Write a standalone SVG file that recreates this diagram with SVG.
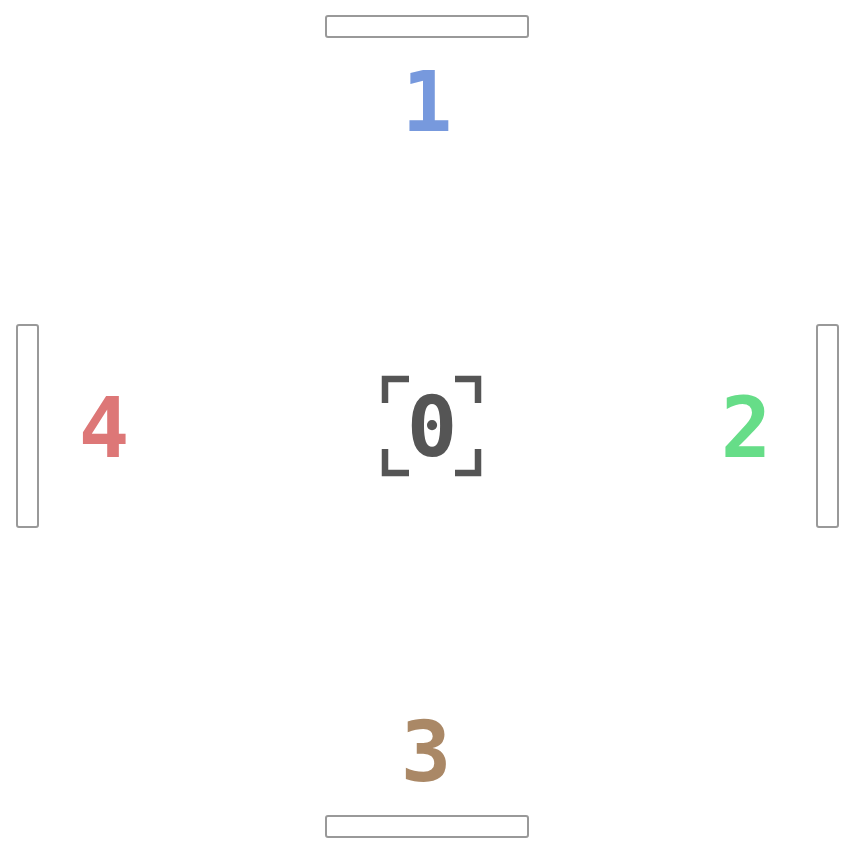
<svg xmlns="http://www.w3.org/2000/svg" width="850" height="850" viewBox="0 0 850 850">
<style>
.wall{fill:#fff;stroke:#999;stroke-width:2}
.num{font-family:"DejaVu Sans Mono","Liberation Mono",monospace;font-weight:bold;font-size:84px;text-anchor:middle}
.br{fill:none;stroke:#555;stroke-width:6.5}
</style>
<rect width="850" height="850" fill="#fff"/>
<g id="wall-top"><rect class="wall" x="326" y="16" width="202" height="21" rx="2"/></g>
<g id="wall-right"><rect class="wall" x="817" y="325" width="21" height="202" rx="2"/></g>
<g id="wall-bottom"><rect class="wall" x="326" y="816" width="202" height="21" rx="2"/></g>
<g id="wall-left"><rect class="wall" x="17" y="325" width="21" height="202" rx="2"/></g>
<g id="node-1"><text class="num" x="427" y="131" fill="#7799dd">1</text></g>
<g id="node-2"><text class="num" x="746" y="457" fill="#66dd88">2</text></g>
<g id="node-3"><text class="num" x="426" y="781" fill="#aa8866">3</text></g>
<g id="node-4"><text class="num" x="104" y="457" fill="#dd7777">4</text></g>
<g id="node-0">
<path class="br" d="M385,403 V379 H409 M455,379 H478 V403 M478,449 V473 H455 M409,473 H385 V449"/>
<text class="num" x="432" y="456" fill="#555">0</text>
</g>
<g id="connectors"></g>
</svg>
